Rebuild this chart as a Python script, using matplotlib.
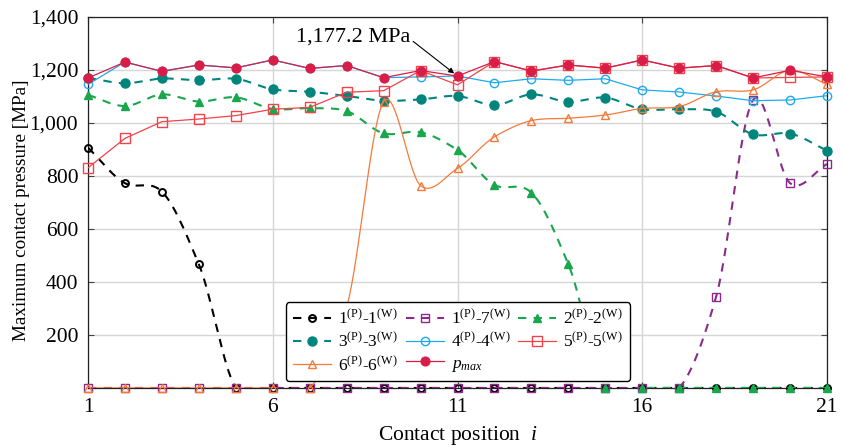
import numpy as np
import matplotlib
matplotlib.use("Agg")
import matplotlib.pyplot as plt
from matplotlib.lines import Line2D

plt.rcParams['font.family'] = ['Liberation Serif', 'DejaVu Serif']
plt.rcParams['mathtext.fontset'] = 'custom'
plt.rcParams['mathtext.rm'] = 'Liberation Serif'
plt.rcParams['mathtext.it'] = 'Liberation Serif:italic'

# ---------------- data ----------------
positions = list(range(1, 22))
p11 = [907, 773, 741, 467, 0, 0, 0, 0, 0, 0, 0, 0, 0, 0, 0, 0, 0, 0, 0, 0, 0]
p17 = [0, 0, 0, 0, 0, 0, 0, 0, 0, 0, 0, 0, 0, 0, 0, 0, 0, 345, 1087, 773, 845]
p22 = [1106, 1064, 1108, 1081, 1097, 1053, 1056, 1045, 961, 965, 898, 766, 737, 467,
       0, 0, 0, 0, 0, 0, 0]
p33 = [1170, 1150, 1168, 1161, 1167, 1127, 1118, 1102, 1084, 1089, 1102, 1067, 1108,
       1080, 1096, 1052, 1052, 1043, 957, 960, 896]
p44 = [1146, 1230, 1195, 1219, 1208, 1238, 1206, 1217, 1171, 1174, 1177.2, 1152, 1167,
       1161, 1167, 1125, 1117, 1102, 1084, 1087, 1103]
p55 = [831, 942, 1005, 1015, 1028, 1052, 1059, 1116, 1122, 1198, 1144, 1232, 1196,
       1219, 1207, 1238, 1207, 1217, 1170, 1172, 1174]
p66 = [0, 0, 0, 0, 0, 0, 0, 305, 1080, 764, 829, 948, 1009, 1018, 1030, 1055, 1062,
       1118, 1125, 1199, 1146]
pmax = [1170, 1230, 1195, 1219, 1208, 1238, 1206, 1217, 1171, 1198, 1177.2, 1232, 1196,
        1219, 1207, 1238, 1207, 1217, 1170, 1199, 1174]

labels = [r'$1^{\mathrm{(P)}}$-$1^{\mathrm{(W)}}$',
          r'$1^{\mathrm{(P)}}$-$7^{\mathrm{(W)}}$',
          r'$2^{\mathrm{(P)}}$-$2^{\mathrm{(W)}}$',
          r'$3^{\mathrm{(P)}}$-$3^{\mathrm{(W)}}$',
          r'$4^{\mathrm{(P)}}$-$4^{\mathrm{(W)}}$',
          r'$5^{\mathrm{(P)}}$-$5^{\mathrm{(W)}}$',
          r'$6^{\mathrm{(P)}}$-$6^{\mathrm{(W)}}$',
          r'$p_{max}$']

x_ticks = [1, 6, 11, 16, 21]
y_ticks = [0, 200, 400, 600, 800, 1000, 1200, 1400]
y_ticklabels = ['', '200', '400', '600', '800', '1,000', '1,200', '1,400']


def smooth(x, y, n=30, c=0.45):
    """Cardinal curve through the data points (rendering only)."""
    x = np.asarray(x, float)
    y = np.asarray(y, float)
    m = np.zeros_like(y)
    m[1:-1] = c * (y[2:] - y[:-2])
    m[0] = y[1] - y[0]
    m[-1] = y[-1] - y[-2]
    xs, ys = [], []
    t = np.linspace(0, 1, n, endpoint=False)
    h00 = 2 * t**3 - 3 * t**2 + 1
    h10 = t**3 - 2 * t**2 + t
    h01 = -2 * t**3 + 3 * t**2
    h11 = t**3 - t**2
    for k in range(len(x) - 1):
        xs.append(x[k] + t * (x[k + 1] - x[k]))
        ys.append(h00 * y[k] + h10 * m[k] + h01 * y[k + 1] + h11 * m[k + 1])
    xs.append([x[-1]])
    ys.append([y[-1]])
    return np.concatenate(xs), np.concatenate(ys)


fig = plt.figure(figsize=(8.42, 4.48), dpi=100)
ax = fig.add_axes([0.1045, 0.134, 0.8777, 0.828])

series = [
    # data, color, ls, lw, marker, ms, filled, smooth
    (p11, '#000000', (0, (4, 3.5)), 1.5, 'o', 5.0, False, True),
    (p17, '#8c2a8c', (0, (4, 3.5)), 1.5, 's', 6.0, False, True),
    (p22, '#19a64c', (0, (4, 3.5)), 1.5, '^', 6.0, True, True),
    (p33, '#00857d', (0, (4, 3.5)), 1.5, 'o', 6.5, True, True),
    (p44, '#1eaaee', '-', 0.9, 'o', 6.0, False, False),
    (p55, '#f2424a', '-', 0.9, 's', 6.5, False, False),
    (p66, '#f47a3a', '-', 0.9, '^', 6.0, False, True),
    (pmax, '#d81e48', '-', 0.9, 'o', 6.3, True, False),
]

handles = []
for idx, (vals, col, ls, lw, mk, ms, filled, sm) in enumerate(series):
    z = 3 + idx * 0.1
    if sm:
        xs, ys = smooth(positions, vals)
    else:
        xs, ys = positions, vals
    ax.plot(xs, ys, color=col, ls=ls, lw=lw, zorder=z)
    mew = 1.4 if (mk == 'o' and not filled and col == '#000000') else 1.0
    ax.plot(positions, vals, ls='none', marker=mk, ms=ms,
            markerfacecolor=col if filled else 'none',
            markeredgecolor=col, markeredgewidth=mew,
            clip_on=False, zorder=z + 0.05)
    handles.append(Line2D([], [], color=col, ls=ls, lw=lw, marker=mk, ms=ms,
                          markerfacecolor=col if filled else 'none',
                          markeredgecolor=col, markeredgewidth=mew))

ax.set_xlim(1, 21)
ax.set_ylim(0, 1400)
ax.set_xticks(x_ticks)
ax.set_yticks(y_ticks)
ax.set_yticklabels(y_ticklabels)
ax.tick_params(direction='in', top=True, right=True, length=4, width=0.8,
               labelsize=15.5, pad=7, color='#444444')
ax.grid(True, color='#d6d6d6', lw=1.0, zorder=0)
ax.set_axisbelow(True)
for s in ax.spines.values():
    s.set_color('#222222')
    s.set_linewidth(0.9)

ax.set_xlabel(r'Contact position  $i$', fontsize=15.5, labelpad=5)
ax.set_ylabel('Maximum contact pressure [MPa]', fontsize=13.8, labelpad=5)
ax.yaxis.set_label_coords(-0.078, 0.48)

# annotation
ax.text(9.72, 1325, '1,177.2 MPa', ha='right', va='center', fontsize=16, zorder=10)
ax.annotate('', xy=(11, 1177.2), xytext=(9.8, 1308),
            arrowprops=dict(arrowstyle='-|>', lw=0.8, color='black',
                            shrinkA=0, shrinkB=3, mutation_scale=8), zorder=10)

order = [0, 3, 6, 1, 4, 7, 2, 5]
leg = ax.legend([handles[k] for k in order], [labels[k] for k in order],
                ncol=3, loc='center', bbox_to_anchor=(0.5007, 0.125),
                fontsize=12.5, frameon=True, fancybox=True, framealpha=1,
                edgecolor='black', handlelength=2.2, handletextpad=0.4,
                columnspacing=0.45, labelspacing=0.25, borderpad=0.4)
leg.get_frame().set_linewidth(1.0)
leg.set_zorder(20)

fig.savefig('out.png', dpi=100)
